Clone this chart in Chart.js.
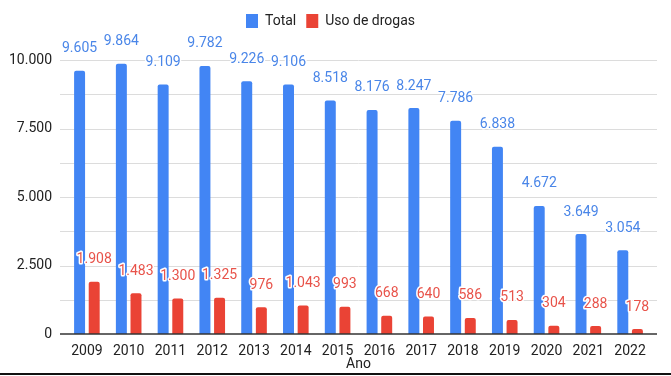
<!DOCTYPE html>
<html>
<head>
<meta charset="utf-8">
<script src="https://cdn.jsdelivr.net/npm/chart.js@4"></script>
<style>
  html, body { margin: 0; padding: 0; background: #fff; }
  .wrap { width: 671px; height: 373px; border-bottom: 2px solid #111; }
</style>
</head>
<body>
<div class="wrap"><canvas id="c" width="671" height="373"></canvas></div>
<script>
// anos e valores
const anos = ['2009','2010','2011','2012','2013','2014','2015','2016','2017','2018','2019','2020','2021','2022'];
const total = [9605, 9864, 9109, 9782, 9226, 9106, 8518, 8176, 8247, 7786, 6838, 4672, 3649, 3054];
const usoDrogas = [1908, 1483, 1300, 1325, 976, 1043, 993, 668, 640, 586, 513, 304, 288, 178];
const yTicks = [0, 2500, 5000, 7500, 10000];

const BLUE = '#4285F4';
const RED = '#EA4335';
const FONT = 'Roboto, "Noto Sans", sans-serif';

function fmt(v) {
  return String(v).replace(/\B(?=(\d{3})+(?!\d))/g, '.');
}

// espaço extra abaixo da legenda
const legendSpace = {
  id: 'legendSpace',
  beforeInit(chart) {
    const fit = chart.legend.fit;
    chart.legend.fit = function () {
      fit.bind(chart.legend)();
      this.height += 22;
    };
  }
};

// linhas de grade um pouco mais largas que a área do gráfico
const gridPlugin = {
  id: 'grid',
  beforeDatasetsDraw(chart) {
    const { ctx, chartArea, scales } = chart;
    const y = scales.y;
    ctx.save();
    for (let v = 1250; v <= 10000; v += 1250) {
      const py = Math.round(y.getPixelForValue(v)) + 0.5;
      ctx.strokeStyle = '#dcdcdc';
      ctx.lineWidth = 1;
      ctx.beginPath();
      ctx.moveTo(chartArea.left - 6, py);
      ctx.lineTo(chartArea.right + 6, py);
      ctx.stroke();
    }
    ctx.restore();
  },
  afterDatasetsDraw(chart) {
    const { ctx, chartArea, scales } = chart;
    const py = Math.round(scales.y.getPixelForValue(0));
    ctx.save();
    ctx.strokeStyle = '#333';
    ctx.lineWidth = 1.5;
    ctx.beginPath();
    ctx.moveTo(chartArea.left - 6, py);
    ctx.lineTo(chartArea.right + 6, py);
    ctx.stroke();
    ctx.restore();
  }
};

// rótulos de valor acima das barras, com contorno branco
const labelPlugin = {
  id: 'valueLabels',
  afterDatasetsDraw(chart) {
    const { ctx } = chart;
    ctx.save();
    ctx.font = '14px ' + FONT;
    ctx.textAlign = 'center';
    ctx.textBaseline = 'middle';
    ctx.lineJoin = 'round';
    chart.data.datasets.forEach((ds, i) => {
      chart.getDatasetMeta(i).data.forEach((bar, j) => {
        const txt = fmt(ds.data[j]);
        const ty = bar.y - 22;
        ctx.lineWidth = 3;
        ctx.strokeStyle = '#fff';
        ctx.strokeText(txt, bar.x, ty);
        ctx.fillStyle = ds.labelColor;
        ctx.fillText(txt, bar.x, ty);
      });
    });
    ctx.restore();
  }
};

new Chart(document.getElementById('c').getContext('2d'), {
  type: 'bar',
  data: {
    labels: anos,
    datasets: [
      { label: 'Total', data: total, backgroundColor: BLUE, labelColor: '#4a86e8',
        borderRadius: 2, borderSkipped: 'bottom', categoryPercentage: 0.7, barPercentage: 0.75 },
      { label: 'Uso de drogas', data: usoDrogas, backgroundColor: RED, labelColor: '#e8534a',
        borderRadius: 2, borderSkipped: 'bottom', categoryPercentage: 0.7, barPercentage: 0.75 },
    ]
  },
  options: {
    responsive: false,
    animation: false,
    devicePixelRatio: 1,
    layout: { padding: { left: 10, right: 20, top: 4, bottom: 0 } },
    plugins: {
      legend: {
        position: 'top',
        labels: { color: '#222', boxWidth: 12, boxHeight: 14, padding: 10, font: { size: 14, family: FONT } }
      },
      tooltip: { enabled: false }
    },
    scales: {
      x: {
        afterFit(scale) { scale.height = 39; },
        grid: { display: false, drawTicks: false },
        border: { display: false },
        ticks: { color: '#222', padding: 9, font: { size: 14, family: FONT }, maxRotation: 0, autoSkip: false },
        title: { display: true, text: 'Ano', color: '#222', padding: { top: 0, bottom: 0 }, font: { size: 14, family: FONT } }
      },
      y: {
        min: 0, max: 10000,
        afterFit(scale) { scale.width = 56; },
        afterBuildTicks(scale) { scale.ticks = yTicks.map(v => ({ value: v })); },
        grid: { display: false, drawTicks: false },
        border: { display: false },
        ticks: { color: '#222', padding: 14, font: { size: 14, family: FONT }, callback: v => fmt(v) }
      }
    }
  },
  plugins: [legendSpace, gridPlugin, labelPlugin]
});
</script>
</body>
</html>
